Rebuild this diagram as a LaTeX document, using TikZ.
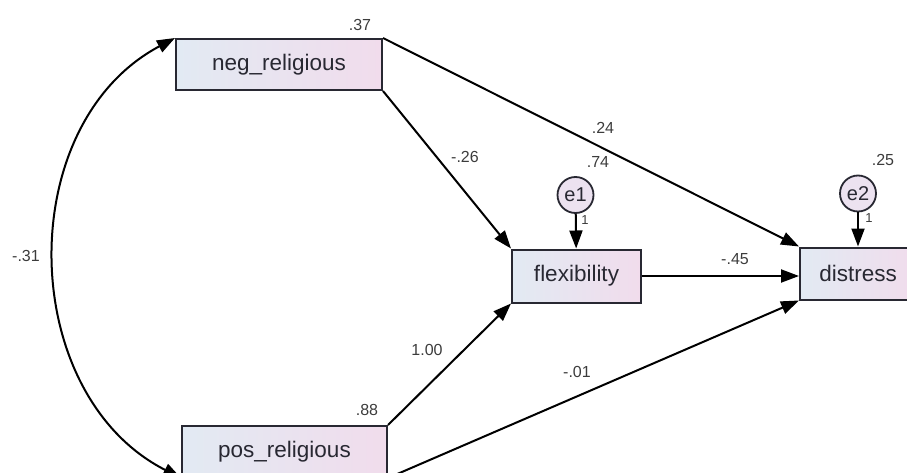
\documentclass[tikz,border=0pt]{standalone}
\usepackage{fontspec}
\setmainfont{Liberation Sans}
\definecolor{boxleft}{RGB}{226, 234, 243}
\definecolor{boxright}{RGB}{241, 220, 236}
\definecolor{errfill}{RGB}{236, 226, 240}
\definecolor{inkdark}{RGB}{40, 40, 50}
\definecolor{labgray}{RGB}{60, 60, 60}
\usetikzlibrary{arrows.meta, positioning}

\begin{document}
\begin{tikzpicture}[x=1pt, y=1pt,
  obs/.style={draw=inkdark, line width=2pt, left color=boxleft, right color=boxright,
              minimum height=51pt, inner sep=0pt, text=inkdark,
              font=\fontsize{22.5}{26}\selectfont},
  err/.style={draw=inkdark, circle, line width=1.8pt, fill=errfill, minimum size=36pt,
              inner sep=0pt, text=inkdark, font=\fontsize{20}{22}\selectfont},
  coef/.style={font=\fontsize{16}{18}\selectfont, text=labgray, inner sep=0pt},
  small/.style={font=\fontsize{13}{14}\selectfont, text=labgray, inner sep=0pt},
  path/.style={draw=black, line width=2pt, -{Triangle[length=18pt, width=13pt]}},
]
\useasboundingbox (0,0) rectangle (907,472);

% Observed variables
\node[obs, minimum width=206pt] (neg) at (279, 407.5) {neg\_religious};
\node[obs, minimum width=205pt] (pos) at (284.5, 20.5) {pos\_religious};
\node[obs, minimum width=129pt, minimum height=53pt] (flex) at (576.5, 196) {flexibility};
\node[obs, minimum width=116pt, minimum height=52pt] (dist) at (858, 198.5) {distress};

% Error terms
\node[err] (e1) at (575.5, 277) {e1};
\node[err] (e2) at (858, 278.5) {e2};

% Paths
\draw[path] (neg.south east) -- (flex.north west);
\draw[path] (neg.north east) -- (dist.north west);
\draw[path] (pos.north east) -- (flex.south west);
\draw[path] (pos.south east) -- (dist.south west);
\draw[path] (flex.east) -- (flex.east -| dist.west);
\draw[path] (e1) -- (flex);
\draw[path] (e2) -- (dist);

% Covariance
\draw[line width=2pt, {Triangle[length=18pt, width=13pt]}-{Triangle[length=18pt, width=13pt]}]
  (neg.north west) to[out=208, in=153, looseness=1.07] (pos.south west);

% Estimates
\node[coef] at (360, 447) {.37};
\node[coef] at (367, 62) {.88};
\node[coef] at (598, 310) {.74};
\node[coef] at (883, 312) {.25};
\node[coef] at (603, 344) {.24};
\node[coef] at (465, 315) {-.26};
\node[coef] at (427, 122) {1.00};
\node[coef] at (577, 100) {-.01};
\node[coef] at (735, 213) {-.45};
\node[coef] at (26, 216) {-.31};
\node[small] at (585, 252) {1};
\node[small] at (869, 254) {1};
\end{tikzpicture}
\end{document}
